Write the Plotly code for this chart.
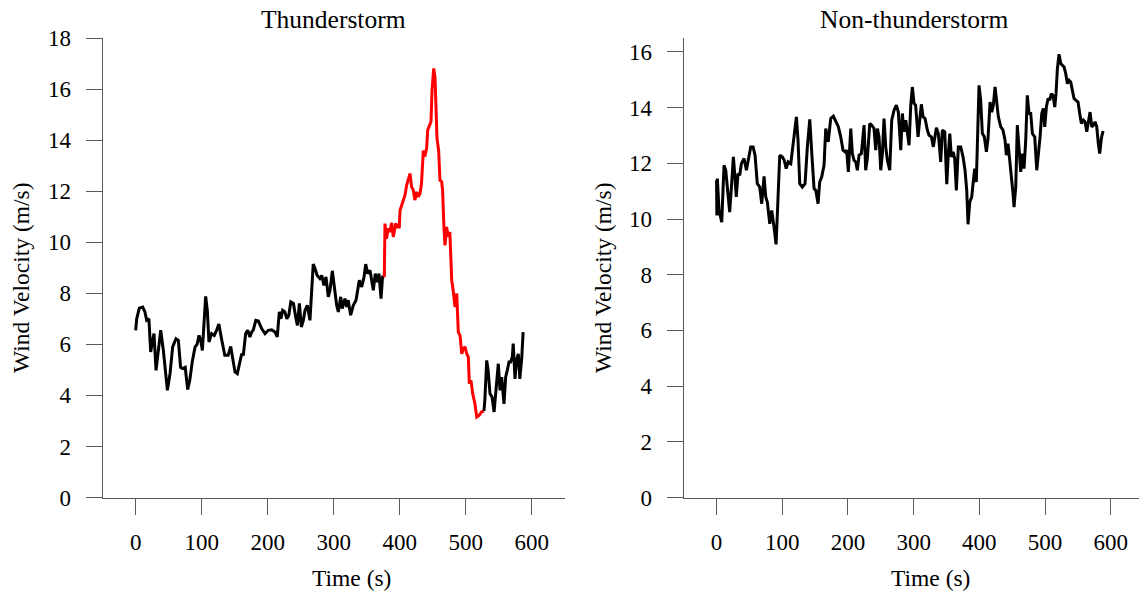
import plotly.graph_objects as go

# ---------------- data ----------------
# Thunderstorm record: pre-event (black), event (red), post-event (black)
ts_pre_time = [0, 1.5, 5.5, 10.6, 14, 16.6, 20, 22.7, 25.7, 27.7, 30.8, 34.3, 37.9, 41.9, 48, 52, 56, 61,
               64.6, 68, 71, 75, 78.8, 82, 86, 90, 93, 96, 98.5, 101, 103.5, 106, 108.5, 111, 115, 119,
               122.6, 126, 130, 135, 140, 144, 147, 150.5, 154, 157, 160.6, 163, 166.6, 169.7, 173, 175.7,
               178, 182, 185.8, 191, 196, 201, 206, 211, 214.5, 217.6, 220, 222.7, 226, 229, 232, 235,
               239, 242.4, 245, 248, 251, 254, 256.5, 260, 264, 266.7, 269, 271.7, 275, 279, 281.8, 285.3,
               288.3, 291.8, 294.4, 297.9, 301, 304.5, 307, 310.6, 313, 317, 319.7, 322, 325.7, 329.7,
               333.8, 336.4, 338.8, 342.4, 346, 348.5, 351.5, 355, 357.6, 360, 363, 366, 368.6, 371.7,
               374, 376.7]
ts_pre_vel = [6.55, 7.0, 7.42, 7.46, 7.27, 6.94, 7.0, 5.7, 6.16, 6.42, 4.98, 5.76, 6.55, 5.76, 4.2, 4.85,
              5.9, 6.22, 6.16, 5.1, 5.05, 5.1, 4.23, 4.6, 5.37, 5.9, 6.0, 6.35, 6.16, 5.76, 6.8, 7.88,
              7.33, 6.09, 6.42, 6.35, 6.55, 6.8, 6.22, 5.57, 5.57, 5.92, 5.44, 4.92, 4.85, 5.24, 5.63,
              5.57, 6.42, 6.55, 6.29, 6.48, 6.55, 6.94, 6.91, 6.61, 6.42, 6.55, 6.57, 6.48, 6.29, 7.27,
              7.0, 7.33, 7.27, 7.0, 7.14, 7.66, 7.6, 7.07, 6.74, 7.6, 6.68, 6.94, 7.33, 7.53, 6.94, 8.12,
              9.14, 8.97, 8.7, 8.58, 8.7, 8.31, 8.64, 7.86, 8.12, 8.88, 8.12, 7.53, 7.27, 7.86, 7.4,
              7.79, 7.46, 7.73, 7.14, 7.53, 7.73, 8.18, 8.51, 8.25, 8.64, 9.14, 8.77, 8.9, 8.44, 8.12,
              8.77, 8.44, 8.77, 7.79, 8.64, 8.64]

ts_event_time = [376.7, 377.7, 380, 382.7, 385, 387.9, 390.3, 394, 397, 399.4, 400.5, 403, 405.5, 408,
                 410.6, 413, 415.6, 418, 420.6, 423, 425.8, 428, 430.8, 433, 435.8, 438, 440.8, 442.4,
                 444.8, 447.4, 449, 451.5, 453.5, 455, 456.5, 459, 461, 463.6, 465, 467, 468.6, 471,
                 473.6, 476, 477, 478.8, 481, 483.8, 486.4, 488.8, 491.4, 494, 496.4, 499, 501.5, 504,
                 505.5, 508, 510.6, 514, 516.7, 520.6, 524, 527.7]
ts_event_vel = [8.64, 10.73, 10.14, 10.54, 10.4, 10.76, 10.21, 10.73, 10.6, 10.6, 11.25, 11.45, 11.71,
                11.84, 12.24, 12.43, 12.69, 12.17, 12.04, 11.65, 11.97, 11.78, 11.91, 12.3, 13.6, 13.35,
                13.67, 14.39, 14.52, 14.72, 15.96, 16.81, 16.48, 15.3, 14.07, 13.6, 12.43, 12.37, 12.04,
                10.6, 9.88, 10.6, 10.21, 10.4, 9.69, 8.51, 8.12, 7.46, 7.99, 6.48, 6.35, 5.63, 5.83, 5.9,
                5.63, 5.5, 4.46, 4.59, 4.07, 3.67, 3.15, 3.22, 3.35, 3.39]

ts_post_time = [527.7, 529, 531.8, 534, 536.8, 540, 543, 547, 549.4, 552, 554.5, 558, 560.6, 563, 565.6,
                568, 570.6, 572, 574.7, 577, 579.7, 582, 585, 587]
ts_post_vel = [3.39, 3.8, 5.37, 4.98, 4.07, 3.93, 3.35, 4.46, 5.24, 4.2, 4.72, 3.67, 4.72, 4.98, 5.31,
               5.31, 5.5, 6.03, 4.65, 5.37, 5.63, 4.65, 5.5, 6.48]

# Non-thunderstorm record
nts_time = [0, 0.5, 1.2, 3.8, 7.9, 11.4, 14, 16.5, 20, 23, 25.6, 28, 30, 32.7, 35.3, 37.8, 41.9, 45.4,
            48.4, 52, 55.6, 58.6, 62, 65.7, 68.8, 72.3, 74.9, 77.3, 81, 84, 87.5, 90.6, 93, 96.2, 100,
            103, 106, 109, 113, 116.4, 119.5, 121.5, 124, 126.6, 130.6, 134.7, 138.2, 141.9, 145, 148.4,
            151, 154.5, 157, 160, 163.6, 166.2, 170, 173.8, 177.8, 181.4, 185.4, 189, 192.5, 195.6, 198,
            200.6, 204.3, 206.7, 209.3, 211.9, 214.3, 216.9, 220.4, 224.5, 227, 229.5, 233.2, 236.2,
            239.7, 242.3, 244.8, 247.3, 249.9, 252.4, 254.9, 257.5, 260, 263.6, 266.6, 270.2, 273.7,
            276.7, 280.4, 282.8, 285.4, 288, 290.4, 293, 295.6, 298, 300.6, 303, 306.7, 311.7, 314.3,
            317.4, 320.9, 323.4, 327, 330, 334.6, 337.6, 341.2, 343.7, 347.3, 350.4, 352.8, 355, 357.4,
            360, 362.5, 365, 368, 371.7, 375.2, 378.2, 380.8, 382.8, 385.4, 388.4, 390.9, 393, 395.4,
            397.5, 399.5, 402, 404.6, 407.6, 410.7, 413.2, 416.3, 418.9, 421.3, 423.9, 426.5, 428.9,
            432.6, 436, 439.1, 441.1, 443.7, 446.3, 448.7, 451.3, 452.8, 455.4, 457.8, 460.4, 463,
            465.4, 468, 470.6, 473, 475.6, 478.2, 480.7, 484.3, 487.4, 489.8, 492.4, 495, 497.4, 499.5,
            502, 504.6, 507.2, 509.6, 512.2, 514.8, 516.7, 518.8, 521.3, 523.9, 526.3, 528.9, 531.5,
            534, 536.5, 539.1, 541.6, 544.1, 546.7, 550.2, 552.8, 555.3, 558.3, 560.9, 563.5, 566,
            568.5, 571.1, 573.6, 576.1, 578.7, 581.1, 583.2, 585.7, 588.3]
nts_vel = [11.39, 10.13, 11.45, 10.31, 9.89, 11.93, 11.75, 11.15, 10.25, 11.27, 12.23, 11.51, 10.79,
           11.63, 11.57, 11.99, 12.17, 11.75, 12.11, 12.59, 12.59, 12.29, 11.27, 11.15, 10.55, 11.53,
           10.79, 10.61, 9.83, 10.31, 9.71, 9.09, 10.43, 12.29, 12.23, 12.11, 11.81, 12.05, 11.99,
           12.59, 13.19, 13.67, 12.83, 11.27, 11.15, 11.27, 12.59, 13.58, 12.35, 11.09, 11.03, 10.55,
           11.33, 11.51, 11.93, 13.25, 12.77, 13.61, 13.69, 13.49, 13.31, 12.95, 12.47, 12.41, 12.47,
           11.69, 13.25, 12.35, 12.11, 12.05, 11.75, 12.29, 12.35, 13.37, 11.75, 12.17, 13.43, 13.37,
           13.25, 12.47, 13.25, 12.95, 11.75, 12.35, 13.61, 12.59, 12.11, 11.75, 13.55, 13.91, 14.09,
           13.84, 12.47, 13.79, 13.13, 13.55, 13.01, 12.65, 14.09, 14.74, 14.15, 14.09, 12.95, 14.12,
           13.67, 13.61, 13.19, 13.01, 12.95, 12.59, 13.28, 13.07, 12.05, 13.19, 13.13, 11.25, 12.35,
           13.07, 12.23, 12.41, 12.17, 11.03, 12.59, 12.59, 12.23, 11.75, 11.03, 9.81, 10.61, 10.79,
           11.39, 11.81, 11.33, 13.43, 14.8, 14.27, 13.07, 12.95, 12.41, 12.89, 14.2, 13.84, 14.09,
           14.74, 14.2, 13.67, 13.31, 13.19, 12.83, 12.29, 12.71, 12.17, 11.63, 10.91, 10.43, 11.15,
           13.37, 12.47, 11.69, 12.35, 11.81, 12.83, 14.44, 13.79, 13.79, 13.07, 12.95, 11.75, 12.23,
           12.95, 13.79, 13.97, 13.31, 14.02, 14.33, 14.27, 14.5, 14.44, 14.02, 14.5, 15.4, 15.92,
           15.58, 15.52, 15.46, 15.22, 14.86, 14.98, 14.92, 14.62, 14.33, 14.27, 14.2, 13.79, 13.43,
           13.55, 13.49, 13.13, 13.49, 13.84, 13.31, 13.37, 13.49, 13.31, 12.71, 12.35, 12.89, 13.16]

x_ticks = [0, 100, 200, 300, 400, 500, 600]
y_ticks_left = [0, 2, 4, 6, 8, 10, 12, 14, 16, 18]
y_ticks_right = [0, 2, 4, 6, 8, 10, 12, 14, 16]

titles = ["Thunderstorm", "Non-thunderstorm"]
x_title = "Time (s)"
y_title = "Wind Velocity (m/s)"

# ---------------- layout geometry (pixels) ----------------
W, H = 1139, 592
FONT = "Liberation Serif, Times New Roman, serif"
FS = 23

def fx(px):
    return px / W

def fy(py):
    return 1 - py / H

plot_top, plot_bot = 38, 497.5
left_l, left_r = 102.7, 564.7
right_l, right_r = 683.7, 1139

fig = go.Figure()
lw = 3
fig.add_trace(go.Scatter(x=ts_pre_time, y=ts_pre_vel, mode="lines",
                         line=dict(color="black", width=lw), xaxis="x", yaxis="y", showlegend=False))
fig.add_trace(go.Scatter(x=ts_event_time, y=ts_event_vel, mode="lines",
                         line=dict(color="#ff0000", width=lw), xaxis="x", yaxis="y", showlegend=False))
fig.add_trace(go.Scatter(x=ts_post_time, y=ts_post_vel, mode="lines",
                         line=dict(color="black", width=lw), xaxis="x", yaxis="y", showlegend=False))
fig.add_trace(go.Scatter(x=nts_time, y=nts_vel, mode="lines",
                         line=dict(color="black", width=lw), xaxis="x2", yaxis="y2", showlegend=False))

axis_common = dict(showline=True, linecolor="#5a5a5a", linewidth=1, ticks="outside", ticklen=16,
                   tickcolor="#5a5a5a", tickwidth=1, showgrid=False, zeroline=False, automargin=False,
                   tickfont=dict(family=FONT, size=FS, color="black"), mirror=False)

fig.update_layout(
    width=W, height=H,
    margin=dict(l=0, r=0, t=0, b=0),
    paper_bgcolor="white", plot_bgcolor="white",
    xaxis=dict(domain=[fx(left_l), fx(left_r)], range=[-50, 650], tickvals=x_ticks,
               anchor="y", ticklabelstandoff=8, **axis_common),
    yaxis=dict(domain=[fy(plot_bot), fy(plot_top)], range=[0, 18], tickvals=y_ticks_left,
               anchor="x", ticklabelstandoff=10, **axis_common),
    xaxis2=dict(domain=[fx(right_l), fx(right_r)], range=[-50, 643], tickvals=x_ticks,
                anchor="y2", ticklabelstandoff=8, **axis_common),
    yaxis2=dict(domain=[fy(plot_bot), fy(plot_top)], range=[0, 16.5], tickvals=y_ticks_right,
                anchor="x2", ticklabelstandoff=10, **axis_common),
)

title_font = dict(family=FONT, size=25.5, color="black")
label_font = dict(family=FONT, size=23.5, color="black")
annotations = [
    dict(text=titles[0], x=fx(333.7), y=fy(19), font=title_font),
    dict(text=titles[1], x=fx(914), y=fy(19), font=title_font),
    dict(text=x_title, x=fx(351), y=fy(578), font=label_font),
    dict(text=x_title, x=fx(930), y=fy(578), font=label_font),
    dict(text=y_title, x=fx(21), y=fy(278), textangle=-90, font=label_font),
    dict(text=y_title, x=fx(603), y=fy(278), textangle=-90, font=label_font),
]
for a in annotations:
    a.update(xref="paper", yref="paper", showarrow=False, xanchor="center", yanchor="middle")
fig.update_layout(annotations=annotations)

fig.write_html("out.html", config={"displayModeBar": False},
               post_script="document.body.style.margin='0';document.body.style.overflow='hidden';")
